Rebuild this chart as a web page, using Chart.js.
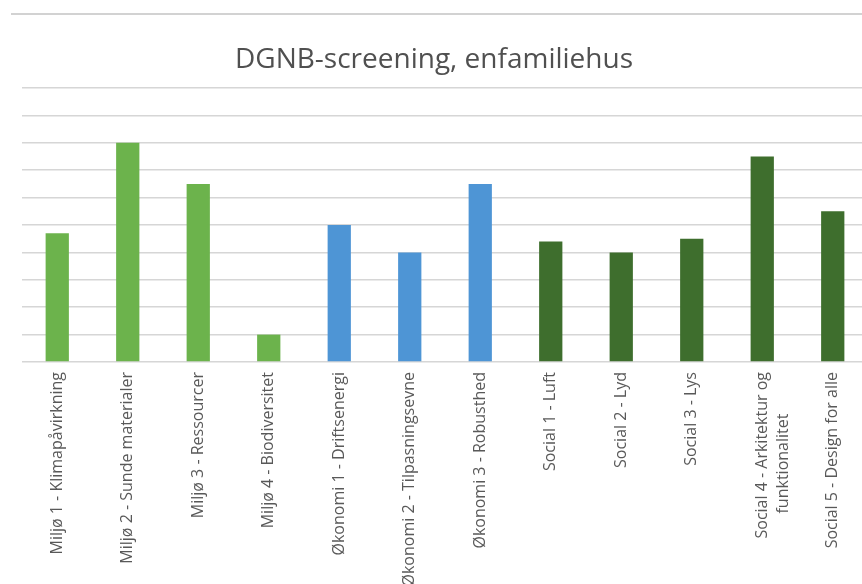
<!DOCTYPE html>
<html lang="da">
<head>
    <meta charset="UTF-8">
    <title>DGNB-screening, enfamiliehus</title>
    <script src="https://cdn.jsdelivr.net/npm/chart.js"></script>
    <style>
        html, body { margin: 0; padding: 0; background: #ffffff; overflow: hidden; }
        #frame { position: absolute; left: 0; top: 0; width: 862px; height: 584px; overflow: hidden; }
        #topline { position: absolute; left: 11px; right: 0; top: 13px; border-top: 2px solid #d2d2d2; }
        #wrap { position: absolute; left: 0; top: 0; width: 870px; height: 584px; }
    </style>
</head>
<body>
<div id="frame">
    <div id="topline"></div>
    <div id="wrap"><canvas id="dgnbChart" width="870" height="584"></canvas></div>
</div>

<script>
    // Kategorier (x-akse)
    const categories = [
        "Miljø 1 - Klimapåvirkning",
        "Miljø 2 - Sunde materialer",
        "Miljø 3 - Ressourcer",
        "Miljø 4 - Biodiversitet",
        "Økonomi 1 - Driftsenergi",
        "Økonomi 2 - Tilpasningsevne",
        "Økonomi 3 - Robusthed",
        "Social 1 - Luft",
        "Social 2 - Lyd",
        "Social 3 - Lys",
        ["Social 4 - Arkitektur og", "funktionalitet          "],
        "Social 5 - Design for alle"
    ];

    // Point pr. kriterie (aflæst)
    const scores = [4.7, 8, 6.5, 1, 5, 4, 6.5, 4.4, 4, 4.5, 7.5, 5.5];

    // Hovedgruppe pr. kategori
    const groups = ["miljo", "miljo", "miljo", "miljo", "okonomi", "okonomi", "okonomi",
                    "social", "social", "social", "social", "social"];

    const yMin = 0;
    const yMax = 10;

    const groupColors = {
        miljo: "#6cb34c",
        okonomi: "#4e95d5",
        social: "#3e6e2d"
    };

    const ctx = document.getElementById("dgnbChart").getContext("2d");
    new Chart(ctx, {
        type: "bar",
        data: {
            labels: categories,
            datasets: [{
                data: scores,
                backgroundColor: groups.map(g => groupColors[g]),
                borderWidth: 0,
                barPercentage: 0.33,
                categoryPercentage: 1
            }]
        },
        options: {
            responsive: false,
            animation: false,
            layout: { padding: { left: 0, right: 2, top: 0, bottom: 0 } },
            plugins: {
                legend: { display: false },
                tooltip: { enabled: false },
                title: {
                    display: true,
                    text: "DGNB-screening, enfamiliehus",
                    color: "#505050",
                    font: { family: "Open Sans", size: 28, weight: "normal", lineHeight: 1.2 },
                    padding: { top: 43, bottom: 11.4 }
                }
            },
            scales: {
                x: {
                    grid: { display: false, drawTicks: false },
                    border: { display: false },
                    ticks: {
                        autoSkip: false,
                        minRotation: 90,
                        maxRotation: 90,
                        padding: 10,
                        color: "#595959",
                        font: { family: "Open Sans", size: 16, lineHeight: 1.3 }
                    },
                    afterFit: scale => { scale.height = 222; }
                },
                y: {
                    min: yMin,
                    max: yMax,
                    ticks: { display: false, stepSize: 1 },
                    border: { display: false },
                    grid: { color: "#d6d6d6", lineWidth: 1.5, drawTicks: false },
                    afterFit: scale => { scale.width = 22; }
                }
            }
        }
    });
</script>
</body>
</html>
